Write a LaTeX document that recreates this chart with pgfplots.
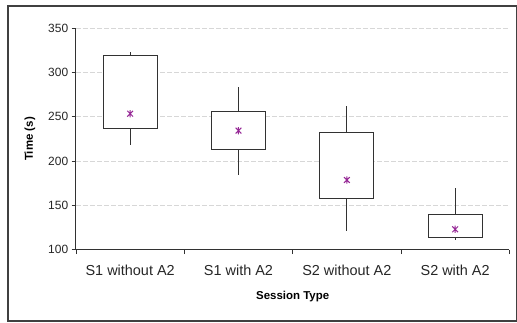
\documentclass[border=0pt]{standalone}
\usepackage{fontspec}
\setmainfont{Liberation Sans}
\usepackage{pgfplots}
\pgfplotsset{compat=1.18}
\usepgfplotslibrary{statistics}
\definecolor{meanpurple}{RGB}{150,40,150}
\definecolor{boxgray}{RGB}{50,50,50}
\definecolor{gridgray}{RGB}{215,215,215}
\pgfdeclareplotmark{xbar}{%
  \pgfpathmoveto{\pgfqpoint{-0.8\pgfplotmarksize}{-0.8\pgfplotmarksize}}%
  \pgfpathlineto{\pgfqpoint{0.8\pgfplotmarksize}{0.8\pgfplotmarksize}}%
  \pgfpathmoveto{\pgfqpoint{-0.8\pgfplotmarksize}{0.8\pgfplotmarksize}}%
  \pgfpathlineto{\pgfqpoint{0.8\pgfplotmarksize}{-0.8\pgfplotmarksize}}%
  \pgfpathmoveto{\pgfqpoint{0pt}{-\pgfplotmarksize}}%
  \pgfpathlineto{\pgfqpoint{0pt}{\pgfplotmarksize}}%
  \pgfusepathqstroke}
\begin{document}
\begin{tikzpicture}[x=1bp,y=1bp]
\useasboundingbox (-76,-72.3) rectangle (441,249.7);
\draw[line width=1.2bp, color=black!75] (-68,-71.3) rectangle (440.3,243.7);
\begin{axis}[
  at={(0,0)}, anchor=south west,
  scale only axis,
  width=433.3bp, height=221.4bp,
  xmin=-0.5, xmax=3.5,
  ymin=100, ymax=350,
  ytick={100,150,200,250,300,350},
  xtick={0,1,2,3},
  xticklabels={S1 without A2, S1 with A2, S2 without A2, S2 with A2},
  minor xtick={-0.5,0.5,1.5,2.5,3.5},
  major x tick style={draw=none},
  tick align=outside,
  major tick length=4.3bp,
  minor tick length=4.3bp,
  tick style={color=boxgray, line width=0.8bp},
  axis x line*=bottom, axis y line*=left,
  axis line style={color=boxgray, line width=1bp, -},
  ymajorgrids,
  grid style={gridgray, dash pattern=on 5bp off 2bp, line width=0.8bp},
  /pgf/number format/assume math mode=true,
  yticklabel style={font=\fontsize{12}{12}\selectfont, color=black!85},
  xticklabel style={font=\fontsize{14.5}{14.5}\selectfont, color=black!85, yshift=-8bp},
  xlabel={Session Type},
  ylabel={Time (s)},
  xlabel style={font=\bfseries\fontsize{11.5}{11.5}\selectfont, at={(axis description cs:0.5,-0.2267)}, anchor=base},
  ylabel style={font=\bfseries\fontsize{11.5}{11.5}\selectfont, at={(axis description cs:-0.1062,0.5)}, anchor=center},
  clip=false,
  boxplot/draw direction=y,
]
\addplot[boxgray, line width=1bp, fill=white, boxplot prepared={draw position=0, box extend=0.5, whisker extend=0,
  lower whisker=218.2, lower quartile=237.4, median=237.4, upper quartile=319.1, upper whisker=323.6}] coordinates {};
\addplot[boxgray, line width=1bp, fill=white, boxplot prepared={draw position=1, box extend=0.5, whisker extend=0,
  lower whisker=184.4, lower quartile=212.9, median=212.9, upper quartile=255.8, upper whisker=283.4}] coordinates {};
\addplot[boxgray, line width=1bp, fill=white, boxplot prepared={draw position=2, box extend=0.5, whisker extend=0,
  lower whisker=121.1, lower quartile=158.1, median=158.1, upper quartile=232.1, upper whisker=262.3}] coordinates {};
\addplot[boxgray, line width=1bp, fill=white, boxplot prepared={draw position=3, box extend=0.5, whisker extend=0,
  lower whisker=111.0, lower quartile=114.0, median=114.0, upper quartile=139.2, upper whisker=169.4}] coordinates {};
\addplot[only marks, mark=xbar, mark size=3.6bp, meanpurple, line width=1bp] coordinates {
  (0,253.6) (1,234.4) (2,178.7) (3,123.0)};
\end{axis}
\end{tikzpicture}
\end{document}
